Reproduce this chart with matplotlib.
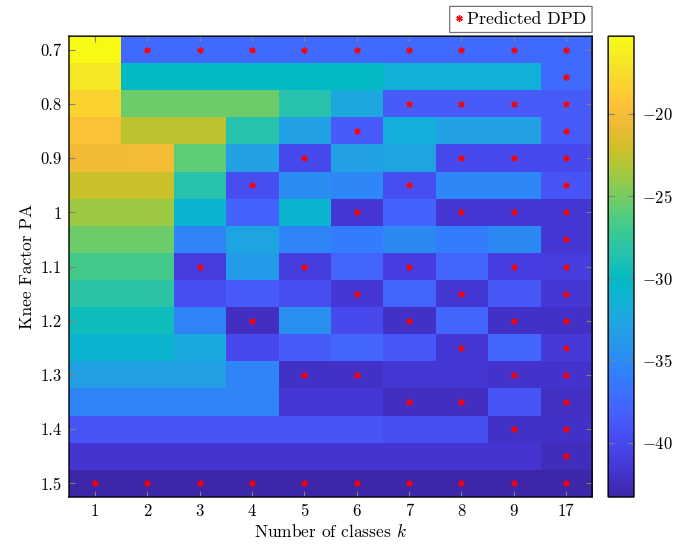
import numpy as np
import matplotlib
matplotlib.use('Agg')
import matplotlib.pyplot as plt
from matplotlib.colors import LinearSegmentedColormap

plt.rcParams['font.family'] = 'serif'
plt.rcParams['font.serif'] = ['cmr10', 'DejaVu Serif']
plt.rcParams['mathtext.fontset'] = 'cm'
plt.rcParams['axes.unicode_minus'] = False
plt.rcParams['path.snap'] = False

# data
k_labels = ['1', '2', '3', '4', '5', '6', '7', '8', '9', '17']
knee = [0.70, 0.75, 0.80, 0.85, 0.90, 0.95, 1.00, 1.05, 1.10, 1.15,
        1.20, 1.25, 1.30, 1.35, 1.40, 1.45, 1.50]
ytick_vals = [0.7, 0.8, 0.9, 1.0, 1.1, 1.2, 1.3, 1.4, 1.5]
ytick_labels = ['0.7', '0.8', '0.9', '1', '1.1', '1.2', '1.3', '1.4', '1.5']
cbar_ticks = [-40, -35, -30, -25, -20]

# DPD [dB], rows = knee factor, cols = number of classes
dpd = [
    [-15.3, -37.4, -37.4, -37.4, -37.4, -37.4, -37.4, -37.4, -37.4, -37.4],
    [-16.8, -30.0, -30.0, -30.0, -30.0, -30.0, -31.3, -31.3, -31.3, -37.4],
    [-18.2, -25.3, -25.3, -25.3, -28.5, -32.3, -38.5, -38.5, -38.5, -38.5],
    [-19.5, -22.7, -22.7, -28.5, -33.0, -38.5, -31.6, -33.0, -33.0, -38.5],
    [-20.5, -20.3, -25.8, -33.0, -40.0, -33.0, -32.5, -40.0, -40.0, -40.0],
    [-22.2, -22.2, -28.5, -39.5, -34.8, -35.3, -39.5, -35.3, -35.3, -39.0],
    [-23.8, -23.8, -30.8, -38.0, -30.8, -41.5, -38.0, -41.5, -41.5, -41.5],
    [-25.3, -25.3, -35.5, -32.5, -35.5, -36.0, -35.0, -36.0, -35.0, -41.5],
    [-26.7, -26.7, -41.0, -33.5, -41.0, -37.8, -40.8, -37.8, -40.8, -41.0],
    [-28.1, -28.1, -39.5, -38.5, -39.5, -41.5, -37.8, -41.5, -38.8, -41.5],
    [-29.5, -29.5, -35.5, -42.3, -34.5, -40.0, -42.0, -37.8, -42.0, -42.0],
    [-30.8, -30.8, -32.0, -40.0, -38.5, -37.8, -38.8, -41.5, -37.8, -41.3],
    [-33.0, -33.0, -33.0, -35.5, -42.0, -42.0, -41.5, -41.5, -41.8, -41.8],
    [-35.5, -35.5, -35.5, -35.5, -41.5, -41.5, -42.3, -42.3, -39.0, -42.2],
    [-39.0, -39.0, -39.0, -39.0, -39.0, -39.0, -39.5, -39.5, -42.0, -42.0],
    [-41.6, -41.6, -41.6, -41.6, -41.6, -41.6, -41.6, -41.6, -41.6, -42.5],
    [-43.3, -43.3, -43.3, -43.3, -43.3, -43.3, -43.3, -43.3, -43.3, -43.3],
]

# predicted DPD markers: for each knee row, the k values that carry a star
stars = {
    0.70: ['2', '3', '4', '5', '6', '7', '8', '9', '17'],
    0.75: ['17'],
    0.80: ['7', '8', '9', '17'],
    0.85: ['6', '17'],
    0.90: ['5', '8', '9', '17'],
    0.95: ['4', '7', '17'],
    1.00: ['6', '8', '9', '17'],
    1.05: ['17'],
    1.10: ['3', '5', '7', '9', '17'],
    1.15: ['6', '8', '17'],
    1.20: ['4', '7', '9', '17'],
    1.25: ['8', '17'],
    1.30: ['5', '6', '9', '17'],
    1.35: ['7', '8', '17'],
    1.40: ['9', '17'],
    1.45: ['17'],
    1.50: ['1', '2', '3', '4', '5', '6', '7', '8', '9', '17'],
}

# old matlab parula, subsampled
parula = [
    (0.2422, 0.1504, 0.6603), (0.2647, 0.1978, 0.7952), (0.2783, 0.2559, 0.8991),
    (0.2810, 0.3228, 0.9579), (0.2699, 0.3892, 0.9906), (0.2206, 0.4603, 0.9973),
    (0.1786, 0.5289, 0.9682), (0.1540, 0.5902, 0.9218), (0.1248, 0.6459, 0.8883),
    (0.0689, 0.6948, 0.8394), (0.0067, 0.7312, 0.7660), (0.1408, 0.7584, 0.6842),
    (0.2161, 0.7843, 0.5923), (0.3406, 0.8008, 0.4789), (0.5044, 0.7993, 0.3480),
    (0.6720, 0.7793, 0.2227), (0.8203, 0.7498, 0.1535), (0.9393, 0.7288, 0.2100),
    (0.9970, 0.7659, 0.2199), (0.9786, 0.8386, 0.1766), (0.9597, 0.9135, 0.1423),
    (0.9769, 0.9839, 0.0805),
]
cmap = LinearSegmentedColormap.from_list('parula', parula, N=256)

Z = np.array(dpd)
nk = len(k_labels)
dy = knee[1] - knee[0]

fig = plt.figure(figsize=(6.99, 5.48), dpi=100)
ax = fig.add_axes([0.0987, 0.093, 0.7483, 0.841])
cax = fig.add_axes([0.870, 0.093, 0.037, 0.841])

im = ax.imshow(Z, cmap=cmap, vmin=Z.min(), vmax=Z.max(), aspect='auto',
               interpolation='nearest', origin='upper',
               extent=(0.5, nk + 0.5, knee[-1] + dy / 2, knee[0] - dy / 2))

sx, sy = [], []
for kv, ks in stars.items():
    for k in ks:
        sx.append(k_labels.index(k) + 1)
        sy.append(kv)
ax.plot(sx, sy, ls='none', marker=(6, 2, 0), ms=4.6, mew=1.0, color='red',
        label='Predicted DPD')

ax.set_xlim(0.5, nk + 0.5)
ax.set_ylim(knee[-1] + dy / 2, knee[0] - dy / 2)
ax.set_xticks(np.arange(1, nk + 1))
ax.set_xticklabels(k_labels)
ax.set_yticks(ytick_vals)
ax.set_yticklabels(ytick_labels)
ax.tick_params(direction='in', top=True, right=True, length=4, width=0.8,
               color='#808080', labelsize=12, pad=5)
for s in ax.spines.values():
    s.set_linewidth(1.0)
ax.set_xlabel('Number of classes $k$', fontsize=12.5, labelpad=3)
ax.set_ylabel('Knee Factor PA', fontsize=12.5, labelpad=4)

leg = ax.legend(loc='lower right', bbox_to_anchor=(1.0, 1.008), fontsize=12.8,
                frameon=True, fancybox=False, handlelength=0.5,
                handletextpad=0.2, borderpad=0.3, borderaxespad=0.0)
leg.get_frame().set_edgecolor('#505050')
leg.get_frame().set_linewidth(0.9)

cb = fig.colorbar(im, cax=cax)
cb.set_ticks(cbar_ticks)
cb.set_ticklabels(['$%d$' % v for v in cbar_ticks])
cax.tick_params(direction='in', left=True, right=True, length=4, width=0.8,
                color='#808080', labelsize=12, pad=6)
cb.outline.set_linewidth(1.0)

fig.savefig('out.png', dpi=100)
